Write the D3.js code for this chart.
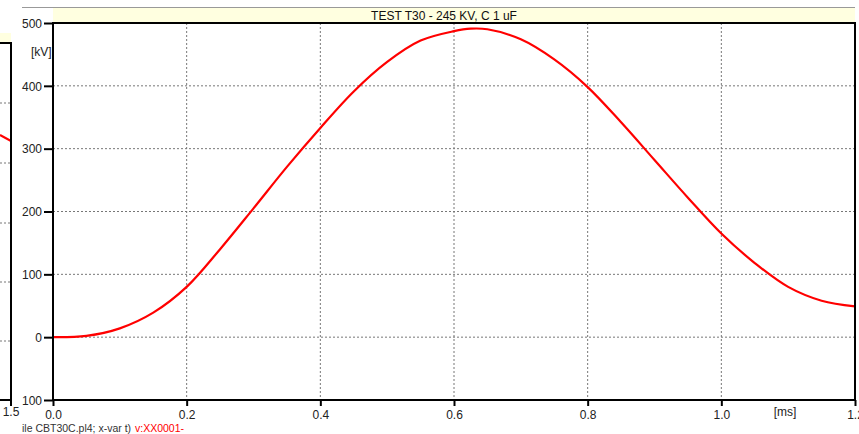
<!DOCTYPE html>
<html><head><meta charset="utf-8">
<script src="https://cdn.jsdelivr.net/npm/d3@7"></script>
<style>body{margin:0;background:#fff;}svg{display:block;font-family:"Liberation Sans",Arial,sans-serif;}</style>
</head><body>
<svg id="c" width="859" height="434"></svg>
<script>
const title = "TEST T30 - 245 KV, C 1 uF";
const timeMs = [0,0.05,0.1,0.15,0.2,0.25,0.3,0.35,0.4,0.45,0.5,0.55,0.6,0.625,0.65,0.7,0.75,0.8,0.85,0.9,0.95,1.0,1.05,1.1,1.15,1.2];
const voltageKV = [0,2,14,39,80,140,205,271,333,391,438,472,487,491,490,474,442,398,342,282,222,165,118,80,58,49];
const xTicks = [0,0.2,0.4,0.6,0.8,1.0,1.2];
const yTicks = [-100,0,100,200,300,400,500];
const yTickLabels = ["100","0","100","200","300","400","500"];
const xUnit = "[ms]", yUnit = "[kV]";
const footer1 = "ile CBT30C.pl4; x-var t)", footer2 = "v:XX0001-";
// left neighbouring panel fragment
const leftGridY = [103,163,223,282,341];

const svg = d3.select("#c");
const L=53,R=855,T=23,B=400;
const x = d3.scaleLinear().domain([0,1.2]).range([L,R]);
const y = d3.scaleLinear().domain([-100,500]).range([B,T]);

// left partial panel
svg.append("rect").attr("x",0).attr("y",33).attr("width",11).attr("height",9).attr("fill","#ffffe0");
leftGridY.forEach(g=>svg.append("line").attr("x1",0).attr("x2",10).attr("y1",g).attr("y2",g)
  .attr("stroke","#777").attr("stroke-dasharray","2,2"));
svg.append("path").attr("d","M0,135 L11,141").attr("stroke","#f00").attr("stroke-width",2).attr("fill","none");
svg.append("path").attr("d","M0,43 H11 V400 H0").attr("stroke","#000").attr("stroke-width",2).attr("fill","none");
svg.append("line").attr("x1",11).attr("x2",11).attr("y1",400).attr("y2",406).attr("stroke","#000").attr("stroke-width",2);
svg.append("text").attr("x",11).attr("y",416).attr("text-anchor","middle").attr("font-size",12).attr("fill","#222").text("1.5");

// header
svg.append("line").attr("x1",22).attr("x2",R).attr("y1",7.5).attr("y2",7.5).attr("stroke","#999");
svg.append("rect").attr("x",L).attr("y",8).attr("width",R-L).attr("height",T-8).attr("fill","#ffffe0");
svg.append("text").attr("x",444).attr("y",19.5).attr("text-anchor","middle").attr("font-size",12).attr("fill","#111").text(title);

// grid
const gx = xTicks.filter(t=>t>0&&t<1.2), gy = yTicks.filter(t=>t>-100&&t<500);
svg.append("g").selectAll("line").data(gx).join("line")
  .attr("x1",d=>x(d)).attr("x2",d=>x(d)).attr("y1",T).attr("y2",B)
  .attr("stroke","#777").attr("stroke-dasharray","2,2");
svg.append("g").selectAll("line").data(gy).join("line")
  .attr("x1",L).attr("x2",R).attr("y1",d=>y(d)).attr("y2",d=>y(d))
  .attr("stroke","#777").attr("stroke-dasharray","2,2");

// curve
const line = d3.line().x((d,i)=>x(timeMs[i])).y(d=>y(d)).curve(d3.curveCatmullRom.alpha(0.5));
svg.append("path").datum(voltageKV).attr("d",line).attr("fill","none").attr("stroke","#f00").attr("stroke-width",2.2);

// frame
svg.append("rect").attr("x",L).attr("y",T).attr("width",R-L).attr("height",B-T).attr("fill","none").attr("stroke","#000").attr("stroke-width",2);

// axes
const xAxis = d3.axisBottom(x).tickValues(xTicks).tickSize(6).tickPadding(4).tickFormat(d3.format(".1f"));
const gxa = svg.append("g").attr("transform",`translate(0,${B})`).call(xAxis);
const yAxis = d3.axisLeft(y).tickValues(yTicks).tickSize(9).tickPadding(2).tickFormat((d,i)=>yTickLabels[i]);
const gya = svg.append("g").attr("transform",`translate(${L},0)`).call(yAxis);
[gxa,gya].forEach(g=>{
  g.select(".domain").remove();
  g.selectAll(".tick line").attr("stroke","#000").attr("stroke-width",2);
  g.selectAll(".tick text").attr("font-size",12).attr("fill","#222").attr("font-family","Liberation Sans, Arial, sans-serif");
});
gya.selectAll(".tick text").attr("dy","0.35em");

svg.append("text").attr("x",785).attr("y",416).attr("text-anchor","middle").attr("font-size",12).attr("fill","#222").text(xUnit);
svg.append("text").attr("x",31).attr("y",56).attr("font-size",12).attr("fill","#222").text(yUnit);

// footer
svg.append("text").attr("x",22).attr("y",432).attr("font-size",10.5).attr("fill","#333").text(footer1);
svg.append("text").attr("x",135).attr("y",432).attr("font-size",10.5).attr("fill","#f00").text(footer2);
</script>
</body></html>
